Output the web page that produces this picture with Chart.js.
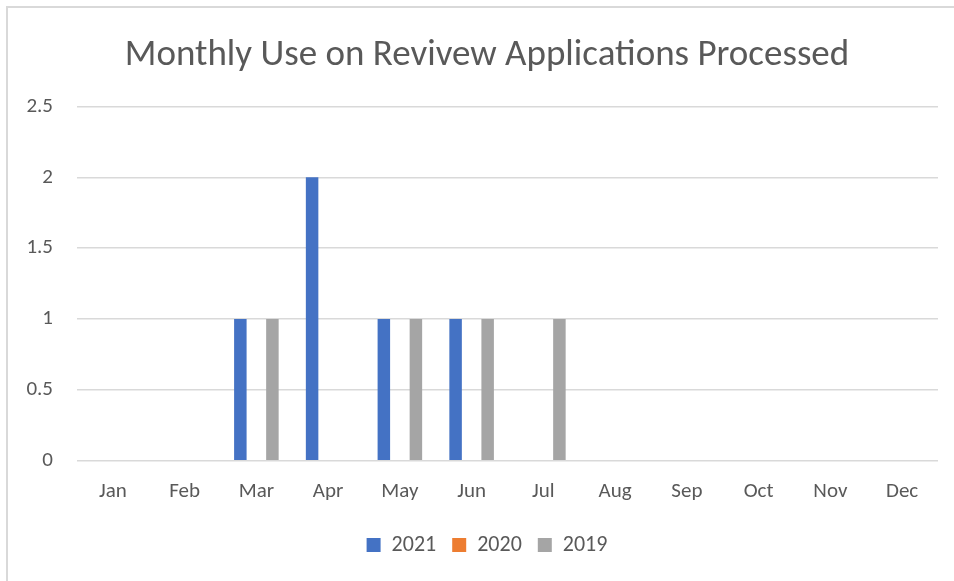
<!DOCTYPE html>
<html>
<head>
<meta charset="utf-8">
<script src="https://cdn.jsdelivr.net/npm/chart.js@4"></script>
<style>
  html, body { margin: 0; padding: 0; background: #fff; }
  #wrap { position: relative; width: 954px; height: 581px; }
  #frame { position: absolute; left: 6px; top: 6px; width: 960px; height: 590px;
           border-left: 2px solid #d9d9d9; border-top: 2px solid #d9d9d9; box-sizing: border-box; }
  canvas { position: absolute; left: 0; top: 0; }
</style>
</head>
<body>
<div id="wrap">
  <div id="frame"></div>
  <canvas id="chart" width="954" height="581"></canvas>
</div>
<script>
// chart data
const months = ['Jan', 'Feb', 'Mar', 'Apr', 'May', 'Jun', 'Jul', 'Aug', 'Sep', 'Oct', 'Nov', 'Dec'];
const values2021 = [0, 0, 1, 2, 1, 1, 0, 0, 0, 0, 0, 0];
const values2020 = [0, 0, 0, 0, 0, 0, 0, 0, 0, 0, 0, 0];
const values2019 = [0, 0, 1, 0, 1, 1, 1, 0, 0, 0, 0, 0];
const yTicks = [0, 0.5, 1, 1.5, 2, 2.5];

const fontFamily = 'Calibri, Carlito, Lato, sans-serif';
const textColor = '#595959';

let ctx = document.getElementById('chart').getContext('2d');
let chart = new Chart(ctx, {
    type: 'bar',
    data: {
        labels: months,
        datasets: [
            { label: '2021', data: values2021, backgroundColor: '#4472C4' },
            { label: '2020', data: values2020, backgroundColor: '#ED7D31' },
            { label: '2019', data: values2019, backgroundColor: '#A5A5A5' }
        ]
    },
    options: {
        responsive: false,
        animation: false,
        categoryPercentage: 0.67,
        barPercentage: 0.78,
        layout: { padding: { left: 20, right: 0, top: 34, bottom: 15 } },
        plugins: {
            title: {
                display: true,
                text: 'Monthly Use on Revivew Applications Processed',
                color: textColor,
                font: { family: fontFamily, size: 37, weight: 'normal' },
                padding: { top: 0, bottom: 28 }
            },
            legend: {
                position: 'bottom',
                labels: {
                    color: textColor,
                    font: { family: fontFamily, size: 22 },
                    boxWidth: 14,
                    boxHeight: 14,
                    padding: 16
                }
            },
            tooltip: { enabled: false }
        },
        scales: {
            x: {
                grid: { display: false },
                border: { display: false },
                afterFit: scale => { scale.height += 4; },
                ticks: { color: textColor, font: { family: fontFamily, size: 21 }, padding: 10 }
            },
            y: {
                min: 0,
                max: 2.5,
                afterFit: scale => { scale.width = 57; },
                afterBuildTicks: scale => { scale.ticks = yTicks.map(v => ({ value: v })); },
                grid: { color: '#d9d9d9', lineWidth: 1.5, drawTicks: false },
                border: { display: false },
                ticks: {
                    color: textColor,
                    font: { family: fontFamily, size: 21 },
                    padding: 24,
                    callback: v => String(v)
                }
            },
            // empty right margin so the plot ends where the reference's does
            yRight: {
                position: 'right',
                grid: { display: false },
                border: { display: false },
                ticks: { display: false },
                afterFit: scale => { scale.width = 16; }
            }
        }
    }
});
</script>
</body>
</html>
